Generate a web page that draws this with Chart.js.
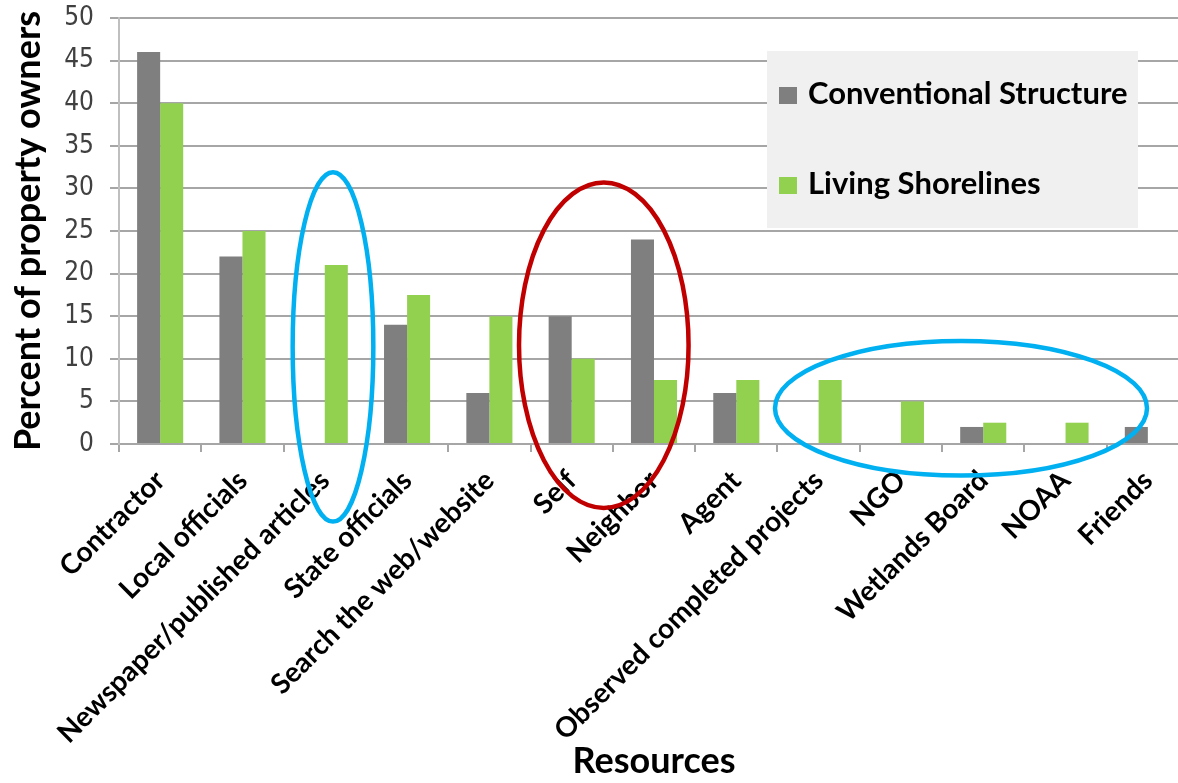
<!DOCTYPE html>
<html>
<head>
<meta charset="utf-8">
<script src="https://cdn.jsdelivr.net/npm/chart.js@4"></script>
<style>
  html, body { margin: 0; padding: 0; background: #fff; }
  body { width: 1178px; height: 783px; overflow: hidden; position: relative; }
  #wrap { position: absolute; left: 0; top: -40px; width: 1200px; height: 823px; }
</style>
</head>
<body>
<div id="wrap"><canvas id="resultsChart" width="1200" height="823"></canvas></div>
<script>
const categories = [
  "Contractor", "Local officials", "Newspaper/published articles", "State officials",
  "Search the web/website", "Self", "Neighbor", "Agent", "Observed completed projects",
  "NGO", "Wetlands Board", "NOAA", "Friends",
];
const conventional = [46, 22, 0, 14, 6, 15, 24, 6, 0, 0, 2, 0, 2];
const living = [40, 25, 21, 17.5, 15, 10, 7.5, 7.5, 7.5, 5, 2.5, 2.5, 0];
const yTicks = [0, 5, 10, 15, 20, 25, 30, 35, 40, 45, 50];

// hand-drawn rings on the original, in category index / value units
const rings = [
  { cx: 2.1, cy: 11.4, rx: 0.49, ry: 20.5, color: "#00b0f0" },
  { cx: 5.39, cy: 11.6, rx: 1.03, ry: 19.1, color: "#c00000" },
  { cx: 9.73, cy: 4.2, rx: 2.26, ry: 7.9, color: "#00b0f0" },
];

const GRID = "#a6a6a6";
const FONT = "Lato, 'Noto Sans', sans-serif";

const overlay = {
  id: "overlay",
  afterDatasetsDraw(chart) {
    const { ctx, scales: { x, y } } = chart;
    const catW = x.getPixelForValue(1) - x.getPixelForValue(0);
    const unit = y.getPixelForValue(0) - y.getPixelForValue(1);
    ctx.save();
    ctx.lineWidth = 4.5;
    rings.forEach((r) => {
      ctx.strokeStyle = r.color;
      ctx.beginPath();
      ctx.ellipse(x.getPixelForValue(r.cx), y.getPixelForValue(r.cy), r.rx * catW, r.ry * unit, 0, 0, Math.PI * 2);
      ctx.stroke();
    });
    ctx.restore();
  },
  afterDraw(chart) {
    // legend box sits inside the plot, top right
    const { ctx } = chart;
    ctx.save();
    ctx.fillStyle = "#f0f0f0";
    ctx.fillRect(767, 91, 371, 177);
    ctx.font = "bold 31px " + FONT;
    ctx.textBaseline = "alphabetic";
    chart.data.datasets.forEach((ds, i) => {
      const base = 144 + i * 90;
      ctx.fillStyle = ds.backgroundColor;
      ctx.fillRect(779, base - 17, 18, 17);
      ctx.fillStyle = "#000";
      ctx.fillText(ds.label, 808, base);
    });
    ctx.restore();
  },
};

const chart = new Chart(document.getElementById("resultsChart"), {
  type: "bar",
  data: {
    labels: categories,
    datasets: [
      { label: "Conventional Structure", data: conventional, backgroundColor: "#7f7f7f" },
      { label: "Living Shorelines", data: living, backgroundColor: "#92d050" },
    ],
  },
  options: {
    responsive: false,
    animation: false,
    layout: { padding: { left: 0, right: 11, top: 0, bottom: 0 } },
    datasets: { bar: { categoryPercentage: 0.56, barPercentage: 1.0 } },
    plugins: {
      legend: { display: false },
      tooltip: { enabled: false },
      title: {
        display: true,
        text: "Erosion Control Advice",
        color: "#7f7f7f",
        font: { family: FONT, size: 40, weight: "bold" },
        padding: { top: 3.5, bottom: 6.5 },
      },
    },
    scales: {
      x: {
        afterFit: (s) => { s.height = 339; },
        grid: { offset: true, drawOnChartArea: false, tickLength: 8, color: GRID, lineWidth: 2 },
        border: { display: true, color: GRID, width: 2 },
        ticks: {
          autoSkip: false,
          minRotation: 45,
          maxRotation: 45,
          padding: 12,
          color: "#000",
          font: { family: FONT, size: 28, weight: "bold" },
        },
        title: {
          display: true,
          text: "Resources",
          color: "#000",
          font: { family: FONT, size: 36, weight: "bold" },
          padding: { top: 0, bottom: 0 },
        },
      },
      y: {
        min: 0,
        max: 50,
        afterFit: (s) => { s.width = 119; },
        afterBuildTicks: (s) => { s.ticks = yTicks.map((v) => ({ value: v })); },
        grid: { color: GRID, lineWidth: 2, tickLength: 9 },
        border: { display: true, color: "#bfbfbf", width: 2 },
        ticks: {
          padding: 16,
          color: "#404040",
          font: { family: "'Liberation Sans Narrow', 'DejaVu Sans Condensed', sans-serif", size: 26 },
        },
        title: {
          display: true,
          text: "Percent of property owners",
          color: "#000",
          font: { family: FONT, size: 36, weight: "bold" },
          padding: { top: 7, bottom: 0 },
        },
      },
    },
  },
  plugins: [overlay],
});
</script>
</body>
</html>
